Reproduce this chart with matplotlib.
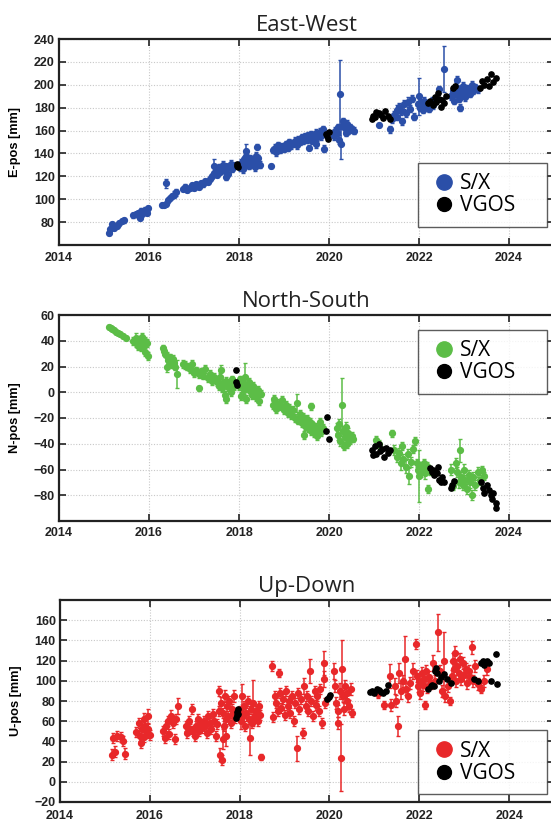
import matplotlib
matplotlib.use("Agg")
import matplotlib.pyplot as plt
from matplotlib.lines import Line2D

# ---------------- East-West ----------------
ew_sx_t = [2015.10, 2015.13, 2015.17, 2015.22, 2015.28, 2015.33, 2015.40, 2015.45,
           2015.65, 2015.70, 2015.75, 2015.78, 2015.80, 2015.82, 2015.85, 2015.88, 2015.92, 2015.95, 2015.98,
           2016.28, 2016.33, 2016.38, 2016.38, 2016.42, 2016.47, 2016.52, 2016.56, 2016.60,
           2016.75, 2016.80, 2016.85, 2016.90, 2016.95, 2017.00, 2017.05, 2017.10, 2017.15, 2017.20, 2017.25, 2017.30, 2017.35,
           2017.40, 2017.45, 2017.45, 2017.50, 2017.52, 2017.55, 2017.58, 2017.62, 2017.65, 2017.68, 2017.70, 2017.72, 2017.75, 2017.78, 2017.82, 2017.85, 2017.88,
           2018.02, 2018.05, 2018.08, 2018.10, 2018.13, 2018.15, 2018.16, 2018.18, 2018.22, 2018.25, 2018.28, 2018.32, 2018.35, 2018.38, 2018.40, 2018.40, 2018.43, 2018.46, 2018.72,
           2018.75, 2018.80, 2018.83, 2018.87, 2018.90, 2018.95, 2019.00, 2019.05, 2019.08, 2019.12, 2019.15, 2019.20, 2019.25, 2019.28, 2019.32, 2019.35, 2019.40,
           2019.43, 2019.47, 2019.50, 2019.53, 2019.57, 2019.60, 2019.63, 2019.67, 2019.70, 2019.73, 2019.77, 2019.80, 2019.83, 2019.87, 2019.55, 2019.72, 2019.88,
           2020.10, 2020.13, 2020.17, 2020.20, 2020.22, 2020.25, 2020.27, 2020.30, 2020.32, 2020.35, 2020.38, 2020.40, 2020.43, 2020.47, 2020.50, 2020.55,
           2021.10, 2021.35,
           2021.40, 2021.45, 2021.50, 2021.52, 2021.55, 2021.60, 2021.63, 2021.67, 2021.70, 2021.75, 2021.80, 2021.85, 2021.88,
           2021.97, 2022.00, 2022.02, 2022.05, 2022.08, 2022.10, 2022.12, 2022.15, 2022.18, 2022.22, 2022.25, 2022.28, 2022.32, 2022.45, 2022.55,
           2022.72, 2022.75, 2022.78, 2022.82, 2022.85, 2022.88, 2022.90, 2022.93, 2022.97, 2023.00, 2023.03, 2023.07, 2023.10, 2023.13, 2023.17, 2023.20, 2023.25, 2023.30, 2022.92, 2022.85]
ew_sx_v = [70.5, 74, 78, 75, 77, 79, 81, 81.5,
           86, 87, 88, 85, 84, 90, 87, 89, 91, 88, 92,
           95, 95, 96, 114, 99, 101, 103, 104, 106,
           109, 111, 108, 110, 112, 110, 113, 111, 114, 113, 116, 115, 118,
           120, 123, 129, 126, 121, 128, 124, 127, 130, 125, 119, 129, 122, 128, 131, 126, 130,
           128, 132, 126, 135, 130, 142, 138, 133, 129, 136, 131, 134, 128, 138, 132, 146, 136, 130, 129,
           143, 145, 141, 147, 143, 146, 144, 148, 145, 150, 147, 149, 151, 147, 152, 150, 154,
           151, 155, 152, 156, 153, 157, 151, 155, 158, 154, 156, 159, 155, 161, 145, 148, 144,
           155, 160, 158, 163, 152, 192, 148, 165, 168, 162, 158, 166, 160, 163, 161, 160,
           165, 161,
           170, 174, 178, 172, 181, 177, 168, 183, 175, 185, 179, 188, 172,
           183, 190, 180, 185, 178, 182, 186, 181, 184, 179, 183, 186, 182, 196, 214,
           190, 195, 186, 198, 192, 188, 196, 191, 199, 193, 189, 197, 194, 192, 200, 195, 198, 196, 180, 204]
ew_sx_e = [1.5, 2, 2, 2, 2,  2, 2, 2,
           2, 2, 2, 2, 2,  2, 2, 2, 2, 2,  2,
           2, 2, 2, 4, 2,  2, 2, 3, 3,
           2, 2, 2, 2, 2,  2, 2, 2, 2, 2,  2, 2, 2,
           2, 2, 6, 2, 2,  3, 2, 2, 3, 2,  2, 2, 2, 2, 3,  2, 2,
           3, 3, 3, 3, 3,  6, 3, 3, 3, 3,  3, 3, 3, 3, 3,  2, 3, 3, 2,
           3, 3, 3, 3, 3,  3, 3, 3, 3, 3,  3, 3, 3, 3, 3,  3, 3,
           3, 3, 3, 3, 3,  3, 3, 3, 3, 3,  3, 3, 3, 3, 2,  3, 3,
           3, 3, 3, 3, 4,  30, 13, 4, 3, 3,  3, 3, 3, 3, 3,  3,
           2, 3,
           3, 3, 4, 3, 3,  3, 3, 4, 3, 4,  3, 3, 3,
           3, 16, 3, 3, 3,  3, 3, 3, 3, 3,  3, 3, 3, 3, 20,
           3, 3, 3, 4, 3,  3, 3, 3, 3, 3,  3, 3, 3, 3, 3,  3, 3, 3, 3, 4]
ew_vg_t = [2017.95, 2017.96, 2017.97,
           2019.93, 2019.95, 2019.97, 2020.00,
           2020.95, 2020.98, 2021.02, 2021.05, 2021.10, 2021.15, 2021.20, 2021.25, 2021.30, 2021.35,
           2022.20, 2022.25, 2022.30, 2022.35, 2022.38, 2022.42, 2022.45, 2022.48, 2022.52, 2022.55, 2022.60,
           2022.75, 2022.80, 2023.35, 2023.40, 2023.45, 2023.50, 2023.55, 2023.60, 2023.65, 2023.70]
ew_vg_v = [129, 131, 128,
           157, 155, 153, 159,
           170, 173, 172, 176, 175, 174, 171, 177, 173, 170,
           184, 186, 182, 189, 185, 193, 188, 181, 187, 184, 190,
           197, 199, 197, 203, 200, 205, 199, 209, 202, 206]

# ---------------- North-South ----------------
ns_sx_t = [2015.12, 2015.15, 2015.18, 2015.22, 2015.27, 2015.30, 2015.35, 2015.42, 2015.48,
           2015.65, 2015.70, 2015.72, 2015.75, 2015.78, 2015.80, 2015.83, 2015.85, 2015.87, 2015.90, 2015.92, 2015.95, 2015.97,
           2016.30, 2016.33, 2016.36, 2016.40, 2016.43, 2016.46, 2016.50, 2016.53, 2016.55, 2016.58, 2016.62, 2016.40,
           2016.75, 2016.80, 2016.85, 2016.90, 2016.95, 2017.00, 2017.05, 2017.10, 2017.12, 2017.15, 2017.20, 2017.25, 2017.30, 2017.35, 2017.40, 2017.45,
           2017.50, 2017.55, 2017.58, 2017.62, 2017.65, 2017.68, 2017.72, 2017.75, 2017.78, 2017.82, 2017.85, 2017.88, 2017.60, 2017.70,
           2018.00, 2018.03, 2018.05, 2018.08, 2018.10, 2018.13, 2018.15, 2018.18, 2018.22, 2018.25, 2018.28, 2018.32, 2018.35, 2018.38, 2018.42, 2018.45, 2018.48,
           2018.75, 2018.78, 2018.82, 2018.85, 2018.90, 2018.95, 2019.00, 2019.05, 2019.08, 2019.12, 2019.15, 2019.20, 2019.25, 2019.28, 2019.32, 2019.35, 2019.40,
           2019.43, 2019.47, 2019.50, 2019.53, 2019.57, 2019.60, 2019.63, 2019.67, 2019.70, 2019.73, 2019.77, 2019.80, 2019.83, 2019.87, 2019.60, 2019.45,
           2020.17, 2020.20, 2020.22, 2020.25, 2020.28, 2020.30, 2020.33, 2020.35, 2020.38, 2020.40, 2020.43, 2020.47, 2020.50, 2020.53,
           2021.05, 2021.12, 2021.40, 2021.45, 2021.50, 2021.55, 2021.60, 2021.62, 2021.65, 2021.70, 2021.75, 2021.78, 2021.82, 2021.87, 2021.90,
           2021.95, 2021.98, 2022.00, 2022.02, 2022.05, 2022.08, 2022.10, 2022.13, 2022.15, 2022.18, 2022.20, 2022.25,
           2022.70, 2022.75, 2022.82, 2022.85, 2022.88, 2022.90, 2022.93, 2022.97, 2023.00, 2023.03, 2023.07, 2023.10, 2023.13, 2023.17, 2023.20, 2023.25, 2023.30, 2023.35, 2023.40, 2023.45]
ns_sx_v = [51, 50, 49, 48, 47, 46, 45, 44, 42,
           40, 38, 42, 36, 41, 39, 35, 43, 37, 40, 31, 38, 28,
           34, 32, 30, 28, 25, 27, 22, 26, 23, 20, 14, 20,
           22, 21, 20, 18, 22, 15, 17, 14, 3, 16, 13, 18, 11, 14, 9, 12,
           8, 5, 12, 3, 7, -2, 9, 4, 6, 0, 10, 5, 17, -5,
           5, 10, -3, 7, 2, 12, -5, 4, 8, 1, -2, 5, 0, -4, 2, -7, -1,
           -10, -5, -13, -8, -11, -6, -14, -10, -16, -12, -18, -14, -20, -8, -22, -17, -24,
           -19, -26, -21, -28, -23, -30, -25, -32, -27, -34, -29, -23, -31, -28, -11, -33,
           -28, -33, -25, -38, -10, -30, -42, -35, -27, -40, -32, -37, -34, -36,
           -37, -40, -32, -45, -50, -47, -55, -42, -52, -58, -48, -65, -54, -44, -38,
           -55, -60, -65, -57, -62, -58, -55, -63, -60, -57, -75, -61,
           -60, -73, -55, -62, -70, -45, -66, -72, -60, -68, -75, -64, -70, -80, -66, -72, -62, -68, -60, -65]
ns_sx_e = [1.5, 1.5, 1.5, 1.5, 1.5,  1.5, 1.5, 1.5, 1.5,
           3, 3, 4, 3, 3,  3, 3, 3, 3, 3,  3, 3, 3,
           3, 3, 3, 3, 3,  3, 3, 3, 3, 3,  11, 4,
           3, 3, 3, 3, 3,  3, 3, 3, 2, 3,  3, 3, 3, 3, 3,  3,
           3, 3, 3, 3, 3,  3, 3, 3, 3, 3,  3, 3, 4, 3,
           3, 3, 3, 3, 3,  11, 3, 3, 3, 3,  3, 3, 3, 3, 3,  3, 3,
           3, 3, 3, 3, 3,  3, 3, 3, 3, 3,  3, 3, 3, 7, 3,  3, 3,
           3, 3, 3, 3, 3,  3, 3, 3, 3, 3,  3, 3, 3, 3, 3,  3,
           4, 4, 4, 4, 21,  4, 3, 4, 4, 3,  4, 3, 3, 3,
           3, 3, 3, 4, 4,  4, 5, 3, 4, 5,  4, 6, 4, 3, 3,
           3, 3, 20, 3, 4,  3, 3, 4, 3, 3,  3, 3,
           4, 3, 4, 4, 4,  9, 4, 4, 4, 4,  4, 4, 4, 4, 4,  4, 4, 4, 3, 3]
ns_vg_t = [2017.93, 2017.94, 2017.95,
           2019.95, 2019.93, 2020.00,
           2020.95, 2020.98, 2021.02, 2021.05, 2021.10, 2021.13, 2021.18, 2021.22, 2021.27, 2021.32, 2021.35,
           2022.25, 2022.28, 2022.30, 2022.33, 2022.36, 2022.40, 2022.43, 2022.45, 2022.48, 2022.52, 2022.55, 2022.70, 2022.73, 2022.78,
           2023.38, 2023.42, 2023.45, 2023.50, 2023.55, 2023.60, 2023.62, 2023.65, 2023.70, 2023.72]
ns_vg_v = [17, 8, 6,
           -19, -30, -36,
           -45, -49, -42, -48, -40, -46, -44, -50, -43, -47, -45,
           -59, -62, -60, -64, -61, -63, -58, -68, -70, -66, -70, -74, -72, -69,
           -70, -74, -78, -72, -76, -80, -83, -78, -86, -90]

# ---------------- Up-Down ----------------
ud_sx_t = [2015.15, 2015.18, 2015.22, 2015.28, 2015.35, 2015.40, 2015.45,
           2015.70, 2015.75, 2015.78, 2015.80, 2015.83, 2015.86, 2015.88, 2015.90, 2015.93, 2015.95, 2015.97, 2016.00,
           2016.30, 2016.33, 2016.37, 2016.40, 2016.43, 2016.48, 2016.52, 2016.55, 2016.58, 2016.62,
           2016.80, 2016.83, 2016.87, 2016.90, 2016.93, 2016.97, 2017.00, 2017.03, 2017.07, 2017.10, 2017.13, 2017.17, 2017.20, 2017.23,
           2017.27, 2017.30, 2017.33, 2017.37, 2017.40, 2017.43, 2017.47, 2017.50, 2017.53,
           2017.55, 2017.57, 2017.58, 2017.60, 2017.62, 2017.65, 2017.67, 2017.70, 2017.72, 2017.75, 2017.77, 2017.80, 2017.83, 2017.85, 2017.88, 2017.90, 2017.62, 2017.70,
           2018.00, 2018.03, 2018.05, 2018.08, 2018.10, 2018.13, 2018.15, 2018.18, 2018.20, 2018.22, 2018.25, 2018.28, 2018.30, 2018.33, 2018.36, 2018.40, 2018.43, 2018.46, 2018.48,
           2018.72, 2018.75, 2018.78, 2018.82, 2018.85, 2018.88, 2018.90, 2018.93, 2018.97, 2019.00, 2019.03, 2019.07, 2019.10, 2019.13, 2019.17, 2019.20, 2019.23,
           2019.27, 2019.30, 2019.33, 2019.37, 2019.40, 2019.43, 2019.47, 2019.50, 2019.53, 2019.57, 2019.60, 2019.63, 2019.67, 2019.70, 2019.73, 2019.77, 2019.80,
           2019.83, 2019.87, 2019.90, 2019.88,
           2020.10, 2020.13, 2020.15, 2020.18, 2020.20, 2020.23, 2020.25, 2020.27, 2020.30, 2020.33, 2020.35, 2020.38, 2020.40, 2020.43, 2020.47, 2020.50,
           2021.08, 2021.22, 2021.35, 2021.38, 2021.45, 2021.48, 2021.52, 2021.55, 2021.60, 2021.63, 2021.68, 2021.70, 2021.75, 2021.80, 2021.85,
           2021.92, 2021.95, 2021.97, 2022.00, 2022.02, 2022.05, 2022.08, 2022.10, 2022.12, 2022.15, 2022.18, 2022.22, 2022.25,
           2022.30, 2022.35, 2022.42, 2022.47, 2022.50, 2022.55, 2022.58, 2022.65,
           2022.68, 2022.72, 2022.75, 2022.78, 2022.80, 2022.82, 2022.85, 2022.88, 2022.90, 2022.93, 2022.97, 2023.00, 2023.03, 2023.07, 2023.10, 2023.13,
           2023.17, 2023.20, 2023.25, 2023.30, 2023.38, 2023.45, 2023.50]
ud_sx_v = [27, 43, 30, 45, 44, 40, 28,
           49, 58, 45, 38, 52, 62, 44, 55, 48, 65, 52, 46,
           50, 43, 55, 60, 47, 65, 58, 42, 62, 75,
           55, 48, 60, 52, 72, 50, 45, 55, 62, 50, 57, 53, 60, 55,
           48, 65, 58, 52, 67, 60, 45, 57, 70,
           90, 27, 78, 22, 68, 55, 85, 62, 75, 65, 80, 58, 72, 68, 85, 63, 42, 45,
           70, 60, 85, 65, 75, 55, 68, 80, 62, 43, 72, 58, 78, 64, 70, 60, 75, 66, 25,
           115, 64, 85, 78, 70, 108, 88, 73, 82, 66, 90, 75, 80, 68, 85, 60, 78,
           33, 88, 72, 82, 48, 95, 75, 85, 70, 110, 80, 65, 90, 76, 85, 70, 92,
           58, 118, 78, 102,
           110, 95, 78, 70, 58, 90, 24, 112, 85, 72, 95, 80, 88, 75, 92, 68,
           87, 76, 105, 76, 95, 80, 55, 108, 90, 100, 122, 92, 85, 98, 110,
           136, 105, 95, 100, 88, 108, 96, 102, 76, 110, 94, 104, 98,
           118, 100, 148, 110, 90, 120, 85, 95,
           80, 105, 120, 112, 128, 100, 115, 108, 122, 102, 118, 106, 112, 98, 110, 104,
           133, 100, 115, 97, 92, 100, 112]
ud_sx_e = [5, 5, 5, 5, 5,  5, 5,
           5, 5, 5, 5, 5,  6, 5, 5, 5, 7,  5, 5,
           5, 5, 5, 5, 5,  6, 5, 5, 5, 8,
           5, 5, 5, 5, 5,  5, 5, 5, 5, 5,  5, 5, 5, 5,
           5, 5, 5, 5, 5,  5, 5, 5, 5,
           5, 6, 6, 5, 5,  5, 6, 5, 5, 5,  5, 5, 5, 5, 6,  5, 10, 10,
           5, 8, 12, 5, 5,  5, 5, 5, 5, 16,  5, 5, 23, 5, 5,  5, 5, 5, 3,
           5, 5, 5, 5, 5,  4, 5, 5, 5, 5,  5, 5, 5, 5, 5,  5, 5,
           12, 5, 5, 5, 5,  8, 5, 5, 5, 12,  5, 5, 5, 5, 5,  5, 5,
           5, 12, 5, 8,
           8, 6, 6, 6, 6,  8, 33, 28, 6, 6,  6, 6, 6, 6, 6,  4,
           4, 4, 12, 6, 8,  6, 10, 10, 8, 6,  22, 6, 6, 6, 8,
           5, 6, 6, 8, 6,  6, 6, 6, 4, 6,  6, 6, 6,
           8, 6, 18, 6, 6,  28, 6, 6,
           4, 6, 8, 6, 6,  6, 6, 6, 6, 6,  6, 6, 6, 6, 6,  6,
           6, 6, 6, 6, 4,  6, 6]
ud_vg_t = [2017.93, 2017.94, 2017.95, 2017.96, 2017.97,
           2019.95, 2019.98, 2020.02,
           2020.90, 2020.95, 2021.00, 2021.05, 2021.10, 2021.15, 2021.20, 2021.25, 2021.30,
           2022.20, 2022.25, 2022.28, 2022.32, 2022.36, 2022.38, 2022.40, 2022.43, 2022.48, 2022.55, 2022.62, 2022.70,
           2023.22, 2023.30, 2023.38, 2023.42, 2023.45, 2023.50, 2023.55, 2023.60, 2023.70, 2023.72]
ud_vg_v = [63, 66, 69, 72, 67,
           82, 84, 86,
           89, 90, 88, 92, 91, 89, 88, 90, 96,
           92, 95, 96, 95, 110, 113, 108, 100, 104, 107, 102, 98,
           102, 100, 118, 120, 116, 120, 118, 100, 127, 97]

titles = ["East-West", "North-South", "Up-Down"]
ylabels = ["E-pos [mm]", "N-pos [mm]", "U-pos [mm]"]
sx_colors = ["#2b4fa8", "#5cbd47", "#e8282a"]
legend_labels = ["S/X", "VGOS"]
x_ticks = [2014, 2016, 2018, 2020, 2022, 2024]

panels = [
    (ew_sx_t, ew_sx_v, ew_sx_e, ew_vg_t, ew_vg_v, (60, 240), list(range(80, 241, 20))),
    (ns_sx_t, ns_sx_v, ns_sx_e, ns_vg_t, ns_vg_v, (-100, 60), list(range(-80, 61, 20))),
    (ud_sx_t, ud_sx_v, ud_sx_e, ud_vg_t, ud_vg_v, (-20, 180), list(range(-20, 161, 20))),
]

W, H = 551, 823
fig = plt.figure(figsize=(W / 100, H / 100), dpi=100)

# axes boxes in pixels: (left, top, right, bottom)
boxes = [(59, 39, 554, 245), (59, 315, 554, 521), (60, 600, 554, 802)]
leg_anchor = [(0.725, 0.078, 0.26, 0.33), (0.725, 0.597, 0.26, 0.35), (0.725, 0.025, 0.26, 0.343)]
xpads = [5, 4, 5.5]

for i, (st, sv, se, vt, vv, ylim, yt) in enumerate(panels):
    n = min(len(st), len(sv), len(se))
    l, t, r, b = boxes[i]
    ax = fig.add_axes([l / W, 1 - b / H, (r - l) / W, (b - t) / H])
    ax.errorbar(st[:n], sv[:n], yerr=se[:n], fmt="o", ms=4.2, color=sx_colors[i], ecolor=sx_colors[i],
                elinewidth=1.1, capsize=1.6, capthick=1.0, zorder=3)
    m = min(len(vt), len(vv))
    ax.errorbar(vt[:m], vv[:m], yerr=1.5, fmt="o", ms=3.8, color="black", ecolor="black",
                elinewidth=0.9, capsize=1.4, capthick=0.8, zorder=4)
    ax.set_xlim(2014, 2025)
    ax.set_ylim(*ylim)
    ax.set_xticks(x_ticks)
    ax.set_xticklabels([str(x) for x in x_ticks])
    ax.set_yticks(yt)
    ax.grid(True, linestyle=(0, (1, 1.5)), color="#c8c8c8", linewidth=0.8)
    ax.set_axisbelow(True)
    ax.tick_params(axis="both", direction="in", length=5, width=1.2, top=True, right=True,
                   labelsize=9, colors="#222222")
    ax.tick_params(axis="x", pad=xpads[i])
    ax.tick_params(axis="y", pad=3)
    for lab in ax.get_xticklabels() + ax.get_yticklabels():
        lab.set_fontfamily("Liberation Sans")
        lab.set_fontweight("bold")
    for sp in ax.spines.values():
        sp.set_linewidth(1.6)
        sp.set_color("#222222")
    ax.set_ylabel(ylabels[i], fontsize=9.2, fontfamily="Liberation Sans", fontweight="bold")
    ax.yaxis.set_label_coords(-0.077, 0.5)
    ax.set_title(titles[i], fontsize=16, fontfamily="Open Sans", pad=6, color="#222222")

    handles = [Line2D([], [], marker="o", linestyle="", color=sx_colors[i], markersize=11),
               Line2D([], [], marker="o", linestyle="", color="black", markersize=10)]
    leg = ax.legend(handles, legend_labels, loc="center", bbox_to_anchor=leg_anchor[i],
                    prop={"family": "Open Sans", "size": 15}, frameon=True, fancybox=False,
                    edgecolor="#333333", handletextpad=0.0, handlelength=1.5, labelspacing=0.05,
                    borderpad=0.5, mode="expand", borderaxespad=0)
    leg.get_frame().set_linewidth(1.0)
    leg.set_zorder(10)

fig.savefig("out.png", dpi=100)
